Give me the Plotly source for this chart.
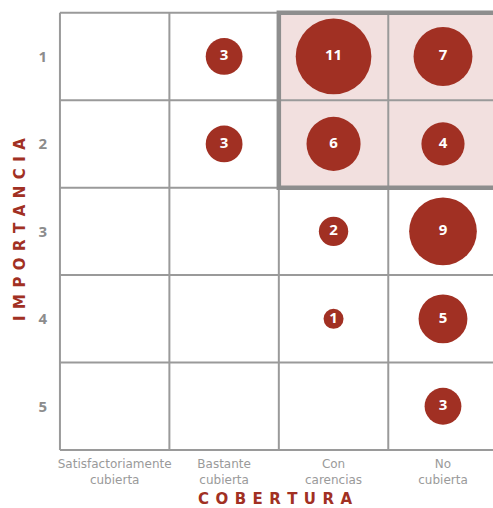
import plotly.graph_objects as go

cobertura = ["Satisfactoriamente<br>cubierta", "Bastante<br>cubierta", "Con<br>carencias", "No<br>cubierta"]
importancia = [1, 2, 3, 4, 5]

point_cobertura = [1, 2, 3, 1, 2, 3, 2, 3, 2, 3, 3]
point_importancia = [1, 1, 1, 2, 2, 2, 3, 3, 4, 4, 5]
point_valor = [3, 11, 7, 3, 6, 4, 2, 9, 1, 5, 3]

RED = "#a13023"
GRID = "#9a9a9a"
FONT = "Open Sans"
TFONT = "DejaVu Sans"
SP = "\u2004\u200a"

sizes = [20 * v ** 0.555 for v in point_valor]

fig = go.Figure()
fig.add_trace(go.Scatter(
    x=point_cobertura, y=point_importancia,
    mode="markers+text",
    text=[str(v) for v in point_valor],
    textposition="middle center",
    textfont=dict(family=FONT, size=15, color="white", weight="bold"),
    marker=dict(size=sizes, sizemode="diameter", color=RED, line=dict(width=0), opacity=1),
    hoverinfo="skip", cliponaxis=False,
))

ncol = len(cobertura)
nrow = len(importancia)
shapes = []
shapes.append(dict(type="rect", xref="x", yref="y", x0=1.5, x1=3.5, y0=0.5, y1=2.5,
                   fillcolor="#f2e0df", line=dict(width=0), layer="below"))
for i in range(ncol + 1):
    shapes.append(dict(type="line", xref="x", yref="y", x0=i - 0.5, x1=i - 0.5, y0=0.5, y1=nrow + 0.5,
                       line=dict(color=GRID, width=2), layer="below"))
for j in range(nrow + 1):
    shapes.append(dict(type="line", xref="x", yref="y", x0=-0.5, x1=ncol - 0.5, y0=j + 0.5, y1=j + 0.5,
                       line=dict(color=GRID, width=2), layer="below"))
shapes.append(dict(type="rect", xref="x", yref="y", x0=1.5, x1=3.5, y0=0.5, y1=2.5,
                   fillcolor="rgba(0,0,0,0)", line=dict(color="#8e8e8e", width=4.5), layer="below"))

annotations = [
    dict(text=SP.join("COBERTURA"), xref="paper", yref="paper", x=0.5, y=0, yshift=-57,
         xanchor="center", yanchor="bottom", showarrow=False, borderpad=0,
         font=dict(family=TFONT, size=15, color=RED, weight="bold")),
    dict(text=SP.join("IMPORTANCIA"), xref="paper", yref="paper", x=0, y=0.5, xshift=-37,
         xanchor="center", yanchor="middle", textangle=-90, showarrow=False,
         font=dict(family=TFONT, size=15, color=RED, weight="bold")),
]

fig.update_layout(
    width=493, height=508,
    margin=dict(l=57, r=0, t=8, b=56),
    plot_bgcolor="white", paper_bgcolor="white",
    showlegend=False,
    shapes=shapes, annotations=annotations,
    xaxis=dict(range=[-0.527, 3.457], tickvals=list(range(ncol)), ticktext=cobertura,
               showgrid=False, zeroline=False, showline=False, ticks="",
               tickfont=dict(family=TFONT, size=12, color="#9a9a9a"), ticklabelstandoff=3,
               fixedrange=True),
    yaxis=dict(range=[5.523, 0.446], tickvals=importancia, ticktext=[str(v) for v in importancia],
               showgrid=False, zeroline=False, showline=False, ticks="",
               tickfont=dict(family=FONT, size=15, color="#8c8c8c", weight="bold"), ticklabelstandoff=9,
               fixedrange=True),
)

fig.write_html("out.html")
